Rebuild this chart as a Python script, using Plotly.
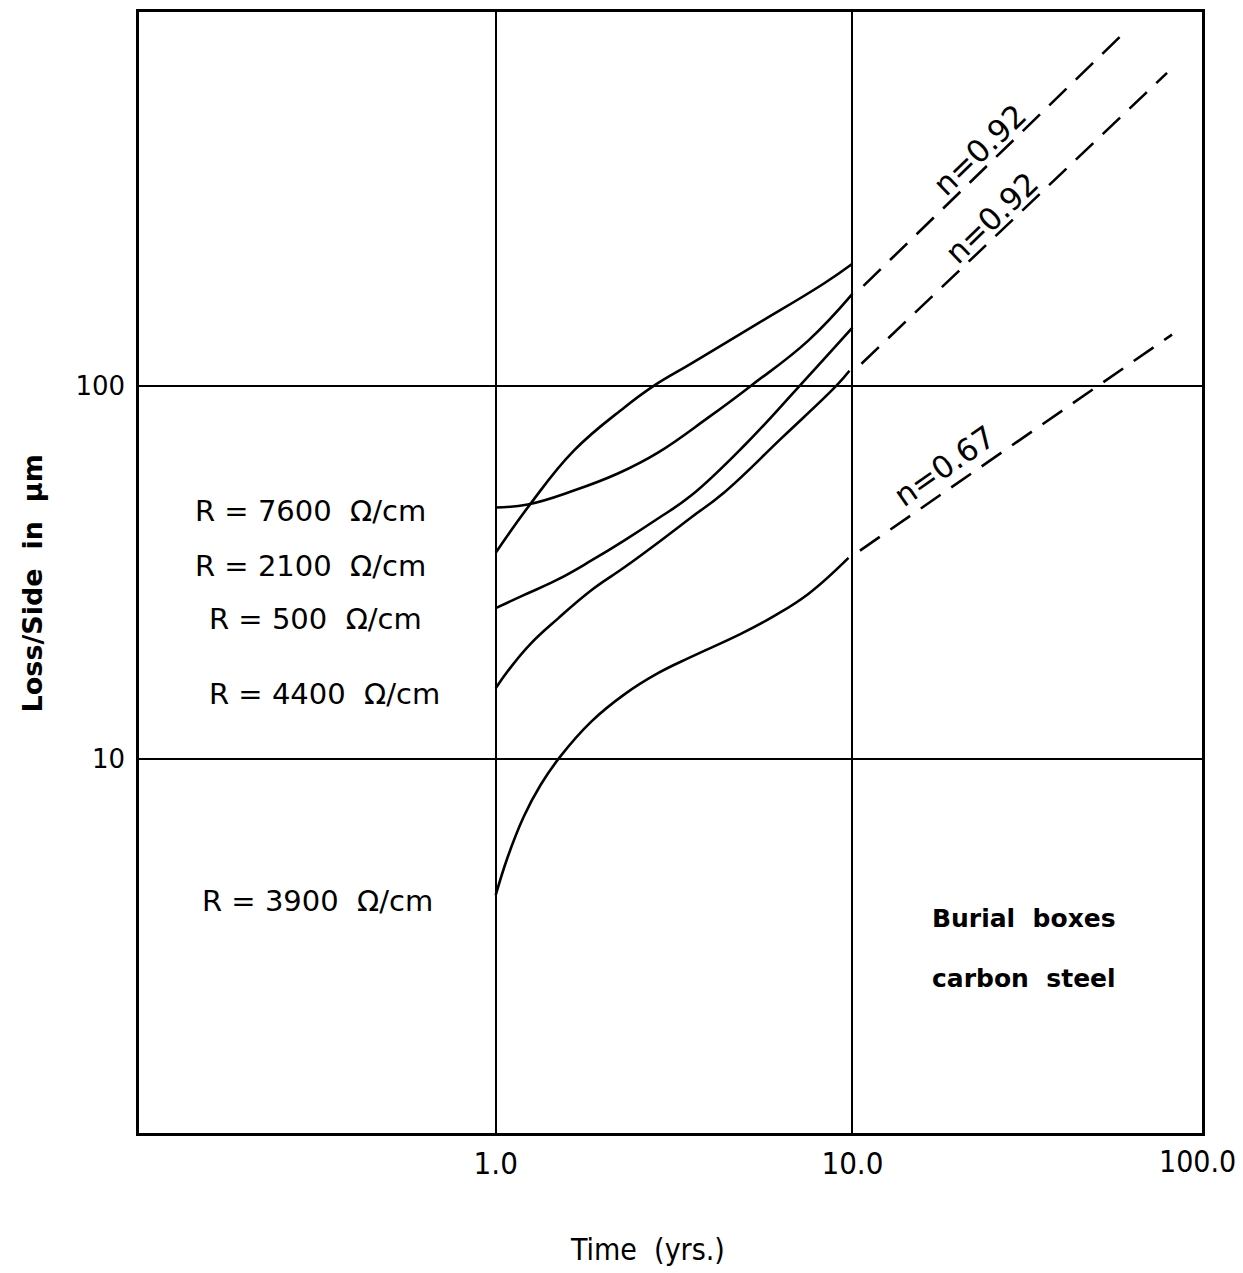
import plotly.graph_objects as go

# ---- data ----
# R = 2100 ohm/cm (steep start)
t_2100 = [1.0, 1.254, 1.656, 2.29, 2.78, 3.53, 5.45, 8.34, 10.0]
l_2100 = [35.7, 48.4, 67.0, 87.3, 100.0, 114.5, 147.0, 188.0, 212.0]
# R = 7600 ohm/cm (flat start)
t_7600 = [1.0, 1.23, 1.656, 2.20, 2.85, 3.94, 5.20, 7.52, 10.0]
l_7600 = [47.2, 48.1, 52.4, 58.2, 66.2, 82.1, 100.0, 132.0, 176.0]
# R = 500 ohm/cm
t_500 = [1.0, 1.198, 1.494, 1.85, 2.29, 2.85, 3.53, 5.0, 7.05, 10.0]
l_500 = [25.4, 27.5, 30.3, 34.0, 38.5, 44.1, 50.8, 69.5, 99.0, 143.0]
# R = 4400 ohm/cm
t_4400 = [1.0, 1.10, 1.254, 1.494, 1.85, 2.29, 2.85, 3.53, 4.37, 6.35, 9.02, 9.81]
l_4400 = [15.5, 17.6, 20.4, 23.8, 28.3, 32.6, 38.0, 44.4, 51.8, 72.6, 100.0, 109.6]
# R = 3900 ohm/cm
t_3900 = [1.0, 1.08, 1.198, 1.337, 1.52, 1.85, 2.29, 2.85, 3.53, 4.88, 6.04, 7.52, 9.75]
l_3900 = [4.33, 5.47, 7.02, 8.55, 10.2, 12.6, 14.9, 17.0, 18.8, 21.7, 24.2, 27.7, 34.6]

# Extrapolated power-law fits (dashed)
t_fit_a = [10.74, 56.9]
l_fit_a = [185.0, 868.0]
t_fit_b = [10.6, 76.2]
l_fit_b = [114.5, 687.0]
t_fit_c = [10.5, 78.7]
l_fit_c = [36.2, 137.0]
fit_labels = ["n=0.92", "n=0.92", "n=0.67"]

curve_labels = ["R = 7600  Ω/cm", "R = 2100  Ω/cm", "R = 500  Ω/cm",
                "R = 4400  Ω/cm", "R = 3900  Ω/cm"]

x_tickvals = [1, 10, 100]
x_ticktext = ["1.0", "10.0", "100.0"]
y_tickvals = [10, 100]
y_ticktext = ["10", "100"]

FONT = "DejaVu Sans"
NARROW = "Liberation Sans Narrow, DejaVu Sans Condensed, DejaVu Sans"
BLACK = "#000000"

X_RANGE = [-1, 1.98]

fig = go.Figure()
for tx, ly in [(t_7600, l_7600), (t_2100, l_2100), (t_500, l_500),
               (t_4400, l_4400), (t_3900, l_3900)]:
    fig.add_trace(go.Scatter(x=tx, y=ly, mode="lines",
                             line=dict(color=BLACK, width=2.6, shape="spline", smoothing=1.2),
                             showlegend=False, hoverinfo="skip"))
for tx, ly in [(t_fit_a, l_fit_a), (t_fit_b, l_fit_b), (t_fit_c, l_fit_c)]:
    fig.add_trace(go.Scatter(x=tx, y=ly, mode="lines",
                             line=dict(color=BLACK, width=2.6, dash="24px,13px"),
                             showlegend=False, hoverinfo="skip"))

annotations = []
# n labels (positions in log10 units)
n_pos = [(1.355, 2.632, -44), (1.389, 2.450, -44), (1.257, 1.785, -35)]
for lbl, (xl, yl, ang) in zip(fit_labels, n_pos):
    annotations.append(dict(x=xl, y=yl, xref="x", yref="y", text=lbl, showarrow=False,
                            textangle=ang, font=dict(family=FONT, size=31, color=BLACK)))
# R labels
r_pos = [(-0.848, 1.664), (-0.848, 1.517), (-0.809, 1.376), (-0.809, 1.176), (-0.828, 0.622)]
for lbl, (xl, yl) in zip(curve_labels, r_pos):
    annotations.append(dict(x=xl, y=yl, xref="x", yref="y", text=lbl, showarrow=False,
                            xanchor="left", font=dict(family=FONT, size=29, color=BLACK)))
# Burial boxes note
annotations.append(dict(x=1.482, y=0.574, xref="x", yref="y", text="<b>Burial  boxes</b>",
                        showarrow=False, font=dict(family=FONT, size=25, color=BLACK)))
annotations.append(dict(x=1.482, y=0.414, xref="x", yref="y", text="<b>carbon  steel</b>",
                        showarrow=False, font=dict(family=FONT, size=25, color=BLACK)))
# 100.0 tick label (at the right frame edge; right-aligned so it stays inside the page)
annotations.append(dict(x=1.0, y=0, xref="paper", yref="paper",
                        xanchor="right", yanchor="top", xshift=36,
                        yshift=-9, text=x_ticktext[2], showarrow=False,
                        font=dict(family=NARROW, size=30, color=BLACK)))
# Axis titles
annotations.append(dict(x=0.478, y=-0.104, xref="paper", yref="paper", text="Time  (yrs.)",
                        xanchor="center", yanchor="middle",
                        showarrow=False, font=dict(family=NARROW, size=30, color=BLACK)))
annotations.append(dict(x=-0.1, y=0.49, xref="paper", yref="paper",
                        xanchor="center", yanchor="middle",
                        text="<b>Loss/Side  in  μm</b>", textangle=-90,
                        showarrow=False, font=dict(family=FONT, size=27, color=BLACK)))

fig.update_layout(
    width=1243, height=1273,
    margin=dict(l=131, r=49, t=1, b=148),
    paper_bgcolor="white", plot_bgcolor="white",
    annotations=annotations,
    xaxis=dict(type="log", range=X_RANGE, tickvals=x_tickvals[:2], ticktext=x_ticktext[:2],
               showgrid=True, gridcolor=BLACK, gridwidth=2, zeroline=False,
               showline=True, linecolor=BLACK, linewidth=2.5, mirror=True,
               ticks="", ticklabelstandoff=1,
               tickfont=dict(family=NARROW, size=31, color=BLACK)),
    yaxis=dict(type="log", range=[0, 3], tickvals=y_tickvals, ticktext=y_ticktext,
               showgrid=True, gridcolor=BLACK, gridwidth=2, zeroline=False,
               showline=True, linecolor=BLACK, linewidth=2.5, mirror=True,
               ticks="", ticklabelstandoff=6,
               tickfont=dict(family=FONT, size=26, color=BLACK)),
)

fig.write_html("out.html")
